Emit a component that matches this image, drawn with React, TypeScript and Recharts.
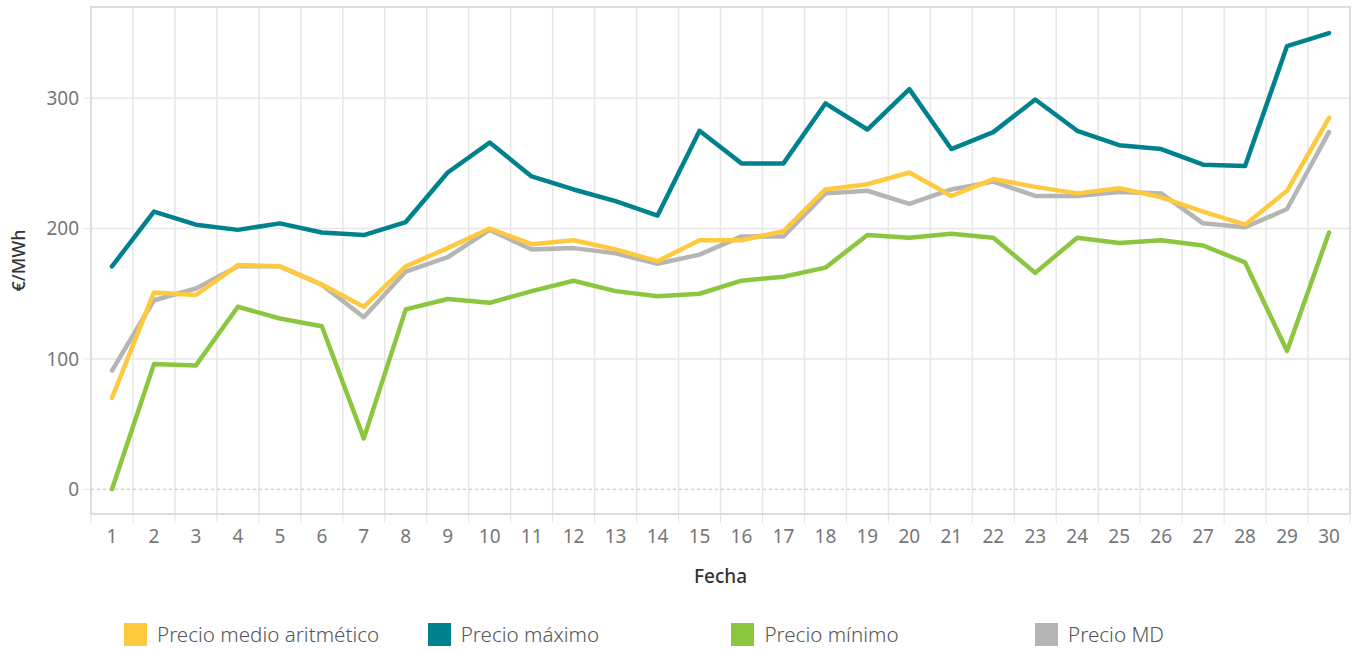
import {
  CartesianGrid,
  Line,
  LineChart,
  ReferenceArea,
  ReferenceLine,
  XAxis,
  YAxis
} from "recharts";

const dias = [
  1, 2, 3, 4, 5, 6, 7, 8, 9, 10, 11, 12, 13, 14, 15, 16, 17, 18, 19, 20, 21,
  22, 23, 24, 25, 26, 27, 28, 29, 30
];
const precioMedio = [
  70, 151, 149, 172, 171, 157, 140, 171, 185, 200, 188, 191, 184, 175, 191,
  191, 198, 230, 234, 243, 225, 238, 232, 227, 231, 224, 213, 203, 229, 285
];
const precioMaximo = [
  171, 213, 203, 199, 204, 197, 195, 205, 243, 266, 240, 230, 221, 210, 275,
  250, 250, 296, 276, 307, 261, 274, 299, 275, 264, 261, 249, 248, 340, 350
];
const precioMinimo = [
  0, 96, 95, 140, 131, 125, 39, 138, 146, 143, 152, 160, 152, 148, 150, 160,
  163, 170, 195, 193, 196, 193, 166, 193, 189, 191, 187, 174, 106, 197
];
const precioMD = [
  91, 145, 154, 171, 171, 157, 132, 167, 178, 199, 184, 185, 181, 173, 180,
  194, 194, 227, 229, 219, 230, 236, 225, 225, 228, 227, 204, 201, 215, 274
];
const yTicks = [0, 100, 200, 300];

const series = [
  { key: "md", name: "Precio MD", color: "#b5b5b5" },
  { key: "minimo", name: "Precio mínimo", color: "#8cc63f" },
  { key: "maximo", name: "Precio máximo", color: "#00828e" },
  { key: "medio", name: "Precio medio aritmético", color: "#fec93f" }
];
const legendOrder = ["medio", "maximo", "minimo", "md"];

const data = dias.map((dia, i) => ({
  dia,
  medio: precioMedio[i],
  maximo: precioMaximo[i],
  minimo: precioMinimo[i],
  md: precioMD[i]
}));

const FONT = "'Noto Sans', sans-serif";
const WIDTH = 1358;
const HEIGHT = 600;
const Y_AXIS_W = 91;
const MARGIN = { top: 7, right: 8, left: 0, bottom: 10 };
const STEP = (WIDTH - MARGIN.right - MARGIN.left - Y_AXIS_W) / dias.length;
const lims = dias.slice(1).map((d) => d - 0.5);

function DiaTick(props: any) {
  const { x, y, payload, index } = props;
  const last = index === dias.length - 1;
  return (
    <g>
      <line x1={x - STEP / 2} x2={x - STEP / 2} y1={y - 8} y2={y + 1} stroke="#e3e3e3" />
      {last && (
        <line x1={x + STEP / 2} x2={x + STEP / 2} y1={y - 8} y2={y + 1} stroke="#e3e3e3" />
      )}
      <text
        x={x}
        y={y + 14}
        textAnchor="middle"
        dominantBaseline="central"
        fill="#777"
        fontSize={19}
        fontFamily={FONT}
      >
        {payload.value}
      </text>
    </g>
  );
}

export default function App() {
  return (
    <div
      style={{
        position: "absolute",
        left: 0,
        top: 0,
        width: WIDTH,
        height: 649,
        background: "#fff",
        fontFamily: FONT
      }}
    >
      <LineChart width={WIDTH} height={HEIGHT} data={data} margin={MARGIN}>
        <CartesianGrid
          stroke="#e6e6e6"
          strokeWidth={1.5}
          horizontalValues={[100, 200, 300]}
          verticalValues={lims}
        />
        <XAxis
          dataKey="dia"
          type="number"
          domain={[0.5, 30.5]}
          ticks={dias}
          interval={0}
          height={76}
          axisLine={false}
          tickLine={false}
          tick={<DiaTick />}
          label={(p: any) => {
            const vb = p.viewBox;
            return (
              <text
                x={vb.x + vb.width / 2}
                y={vb.y + 69}
                textAnchor="middle"
                fill="#333"
                fontSize={19}
                fontWeight={500}
                fontFamily={FONT}
              >
                Fecha
              </text>
            );
          }}
        />
        <YAxis
          type="number"
          domain={[-19, 370]}
          ticks={yTicks}
          width={Y_AXIS_W}
          axisLine={false}
          tickLine={{ stroke: "#e6e6e6" }}
          tickSize={8}
          tickMargin={4}
          tick={{ fill: "#777", fontSize: 19, fontFamily: FONT }}
          label={(p: any) => {
            const vb = p.viewBox;
            const cy = vb.y + vb.height / 2;
            return (
              <text
                x={18}
                y={cy}
                transform={`rotate(-90 18 ${cy})`}
                textAnchor="middle"
                dominantBaseline="central"
                fill="#333"
                fontSize={18}
                fontWeight={500}
                fontFamily={FONT}
              >
                €/MWh
              </text>
            );
          }}
        />
        <ReferenceArea
          x1={0.5}
          x2={30.5}
          y1={-19}
          y2={370}
          fill="none"
          stroke="#d2d2d2"
          strokeWidth={1.5}
        />
        <ReferenceLine y={0} stroke="#bdbdbd" strokeDasharray="3 3" />
        {series.map((s) => (
          <Line
            key={s.key}
            dataKey={s.key}
            name={s.name}
            type="linear"
            stroke={s.color}
            strokeWidth={4.5}
            strokeLinecap="round"
            strokeLinejoin="round"
            dot={false}
            activeDot={false}
            isAnimationActive={false}
          />
        ))}
      </LineChart>
      {legendOrder.map((k, i) => {
        const s = series.find((x) => x.key === k)!;
        return (
          <div
            key={k}
            style={{
              position: "absolute",
              left: 124 + i * 303.7,
              top: 622,
              display: "flex",
              alignItems: "center",
              height: 24
            }}
          >
            <div style={{ width: 23, height: 23, background: s.color }} />
            <span
              style={{
                marginLeft: 10,
                fontSize: 20.6,
                fontWeight: 300,
                color: "#555",
                whiteSpace: "nowrap"
              }}
            >
              {s.name}
            </span>
          </div>
        );
      })}
    </div>
  );
}
